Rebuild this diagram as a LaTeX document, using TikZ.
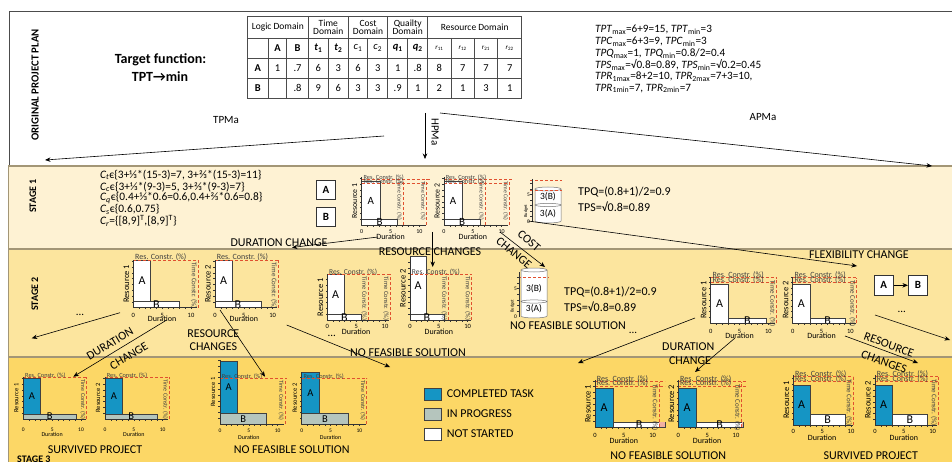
\documentclass[tikz,border=0pt]{standalone}
\usepackage{fontspec}
\setmainfont{Carlito}
\usetikzlibrary{arrows.meta}
\definecolor{sA}{HTML}{FEF2D3}
\definecolor{sB}{HTML}{FCE59E}
\definecolor{sC}{HTML}{FCD766}
\definecolor{bandline}{HTML}{A39676}
\definecolor{consred}{HTML}{E0502F}
\definecolor{done}{HTML}{1595C4}
\definecolor{prog}{HTML}{B5C5BD}
\newcommand\fs[1]{\fontsize{#1}{#1}\selectfont}
% chart axes: #1 ylabel, #2 height, #3 x length, #4 tick label offset, #5 duration offset
\newcommand\chax[5]{%
  \draw[axl] (0,0) -- (0,-#2);
  \draw[axl] (0,0) -- (#3,0);
  \foreach \i in {1,...,10} {\draw[axl] ({\i*5.77},0) -- ++(0,1.6);}
  \pgfmathtruncatemacro\nt{#2/5.8}
  \foreach \j in {1,...,\nt} {\draw[axl] (0,{-\j*5.8}) -- ++(-1.8,0);}
  \node[tick] at (0,#4) {0};
  \node[tick] at (28.85,#4) {5};
  \node[tick] at (57.7,#4) {10};
  \node[dur] at (28.85,#5) {Duration};
  \node[ylab] at (-7,{-#2/2}) {#1};
}
\newcommand\tbar[6]{\draw[task,fill=#1] (#2,#3) rectangle (#4,#5);
  \node[barlab] at ({(#2+#4)/2},{(#3+#5)/2}) {#6};}
\newcommand\resl[2]{\draw[cons] (0,#1) -- (#2,#1);
  \node[conl,anchor=south west] at (1.5,#1+1.2) {Res. Constr. (\%)};}
\newcommand\timl[2]{\draw[cons] (#1,0) -- (#1,-#2);
  \node[timll,rotate=-90,anchor=north west] at (#1-0.8,-#2+2) {Time Constr. (\%)};}
% budget cylinder: #1 left x, #2 top y, #3 bottom y, #4 divider y
\newcommand\budget[4]{%
  \draw[cylb] (#1,#2) -- (#1,#3) arc[start angle=180,end angle=0,x radius=13,y radius=2] -- (#1+26,#2);
  \draw[cylb] (#1+13,#2) ellipse[x radius=13,y radius=2];
  \draw[cylb] (#1+13,#4) ellipse[x radius=13,y radius=1.6];
}
\begin{document}
\begin{tikzpicture}[x=1pt,y=-1pt,
  arr/.style={-{Stealth[length=5.5pt,width=4.5pt]},line width=0.6pt},
  lab/.style={font=\fs{11},inner sep=0},
  big/.style={font=\fs{12},inner sep=0},
  txt/.style={font=\fs{11.4},inner sep=0,anchor=west},
  txq/.style={font=\fs{12},inner sep=0,anchor=west},
  task/.style={draw=black!75,line width=0.5pt},
  axl/.style={draw=black!80,line width=0.45pt},
  cons/.style={draw=consred,dash pattern=on 3pt off 2pt,line width=0.6pt},
  conl/.style={font=\fs{8},inner sep=0.2pt,text=black!75},
  timll/.style={font=\fs{7},inner sep=0.2pt,text=black!75},
  tick/.style={font=\fs{6.5},inner sep=0},
  dur/.style={font=\fs{8},inner sep=0},
  ylab/.style={font=\fs{8.5},inner sep=0,rotate=90},
  barlab/.style={font=\fs{12},inner sep=0},
  box/.style={draw=black!80,fill=white,line width=0.8pt,minimum width=19.5pt,minimum height=19pt,inner sep=0,font=\bfseries\fs{11}},
  cylb/.style={draw=black!55,fill=white,line width=0.5pt},
  stg/.style={font=\bfseries\fs{10},inner sep=0},
  tab/.style={font=\fs{10.5},inner sep=0},
  tabh/.style={font=\fs{9.5},inner sep=0,align=center},
  ch1/.style={conl/.style={font=\fs{6.3},inner sep=0.2pt,text=black!75},timll/.style={font=\fs{5.8},inner sep=0.2pt,text=black!75},tick/.style={font=\fs{6},inner sep=0},dur/.style={font=\fs{8},inner sep=0},ylab/.style={font=\fs{7.8},inner sep=0,rotate=90},barlab/.style={font=\fs{11},inner sep=0}},
  ch2c/.style={conl/.style={font=\fs{7.5},inner sep=0.2pt,text=black!75},timll/.style={font=\fs{6.5},inner sep=0.2pt,text=black!75}},
  small3/.style={dur/.style={font=\fs{6},inner sep=0},ylab/.style={font=\fs{6.5},inner sep=0,rotate=90},conl/.style={font=\fs{6.3},inner sep=0.2pt,text=black!75},timll/.style={font=\fs{6},inner sep=0.2pt,text=black!75},tick/.style={font=\fs{5.5},inner sep=0},barlab/.style={font=\fs{10.5},inner sep=0}}
]
\useasboundingbox (0,0) rectangle (952,462);
% ---------- frame and bands
\fill[white] (0,0) rectangle (952,462);
\draw[black!70,line width=0.6pt] (952,11) -- (9,11) -- (9,166);
\draw[bandline,line width=1.5pt,fill=sA] (8.5,166) rectangle (960,249);
\draw[bandline,line width=1.5pt,fill=sB] (8.5,249) rectangle (960,357);
\draw[bandline,line width=1.5pt,fill=sC] (8.5,357) rectangle (960,470);
% ---------- stage labels
\node[stg,font=\bfseries\fs{10.8},rotate=90] (lorig) at (35,85) {ORIGINAL PROJECT PLAN};
\node[stg,rotate=90] (ls1) at (33,196) {STAGE 1};
\node[stg,rotate=90] (ls2) at (35,294) {STAGE 2};
\node[stg,anchor=north west] (ls3) at (17,456) {STAGE 3};
% ---------- target function
\node[font=\bfseries\fs{14},inner sep=0] (tf1) at (160.5,60) {Target function:};
\node[font=\bfseries\fs{14},inner sep=0] (tf2) at (160,77) {TPT→min};
% ---------- table
\foreach \y in {16,38,58,78,98} {\draw[black!70,line width=0.5pt] (247.3,\y) -- (521.7,\y);}
\foreach \x in {247.3,308.3,348.3,387.7,427.7,521.7} {\draw[black!70,line width=0.5pt] (\x,16) -- (\x,98);}
\foreach \x in {268.3,286.7,328.3,367.7,407.7,451,474.3,497.7} {\draw[black!70,line width=0.5pt] (\x,38) -- (\x,98);}
\node[tabh] (h1) at (277.8,27) {Logic Domain};
\node[tabh] (h2) at (328.3,27) {Time\\[-1.5pt]Domain};
\node[tabh] (h3) at (368,27) {Cost\\[-1.5pt]Domain};
\node[tabh] (h4) at (407.7,27) {Quailty\\[-1.5pt]Domain};
\node[tabh] (h5) at (474.7,27) {Resource Domain};
\foreach \x/\t in {277.5/\textbf{A},297.5/\textbf{B},318.3/\textbf{\textit{t}\textsubscript{1}},338.3/\textbf{\textit{t}\textsubscript{2}},358/\textit{c}\textsubscript{1},377.7/\textit{c}\textsubscript{2},397.7/\textbf{\textit{q}\textsubscript{1}},417.7/\textbf{\textit{q}\textsubscript{2}},439.3/{\fs{7}\textit{r}\textsubscript{11}},462.7/{\fs{7}\textit{r}\textsubscript{12}},486/{\fs{7}\textit{r}\textsubscript{21}},509.7/{\fs{7}\textit{r}\textsubscript{22}}}
  {\node[tab] at (\x,48) {\t};}
\foreach \x/\t in {257.8/\textbf{A},277.5/1,297.5/.7,318.3/6,338.3/3,358/6,377.7/3,397.7/1,417.7/.8,439.3/8,462.7/7,486/7,509.7/7}
  {\node[tab] at (\x,68) {\t};}
\foreach \x/\t in {257.8/\textbf{B},297.5/.8,318.3/9,338.3/6,358/3,377.7/3,397.7/.9,417.7/1,439.3/2,462.7/1,486/3,509.7/1}
  {\node[tab] at (\x,88) {\t};}
% ---------- right info text
\begin{scope}[every node/.style={font=\fs{11.2},inner sep=0,anchor=west}]
\node (i1) at (595,30) {\textit{TPT}\textsubscript{max}=6+9=15, \textit{TPT}\textsubscript{min}=3};
\node (i2) at (595,41.7) {\textit{TPC}\textsubscript{max}=6+3=9, \textit{TPC}\textsubscript{min}=3};
\node (i3) at (595,53.4) {\textit{TPQ}\textsubscript{max}=1, \textit{TPQ}\textsubscript{min}=0.8/2=0.4};
\node (i4) at (595,65.1) {\textit{TPS}\textsubscript{max}=√0.8=0.89, \textit{TPS}\textsubscript{min}=√0.2=0.45};
\node (i5) at (595,76.8) {\textit{TPR}\textsubscript{1max}=8+2=10, \textit{TPR}\textsubscript{2max}=7+3=10,};
\node (i6) at (595,88.5) {\textit{TPR}\textsubscript{1min}=7, \textit{TPR}\textsubscript{2min}=7};
\end{scope}
% ---------- method arrows
\coordinate (tpS) at (384,136); \coordinate (tpE) at (45,160);
\coordinate (hpS) at (425,113); \coordinate (hpE) at (425,159);
\coordinate (apS) at (440,113); \coordinate (apE) at (932,166);
\draw[arr] (tpS) -- (tpE);
\draw[arr] (hpS) -- (hpE);
\draw[arr] (apS) -- (apE);
\node[lab] (ltp) at (226,120) {TPMa};
\node[lab,rotate=-90] (lhp) at (435,132) {HPMa};
\node[lab] (lap) at (763,117) {APMa};
% ---------- stage 1 text
\node[txt] (c1) at (100,175) {\textit{C\textsubscript{t}}є\{3+⅓*(15-3)=7, 3+⅔*(15-3)=11\}};
\node[txt] (c2) at (100,186.7) {\textit{C\textsubscript{c}}є\{3+⅓*(9-3)=5, 3+⅔*(9-3)=7\}};
\node[txt] (c3) at (100,198.3) {\textit{C\textsubscript{q}}є\{0.4+⅓*0.6=0.6,0.4+⅔*0.6=0.8\}};
\node[txt] (c4) at (100,209.5) {\textit{C\textsubscript{s}}є\{0.6,0.75\}};
\node[txt] (c5) at (100,221) {\textit{C\textsubscript{r}}=\{[8,9]\textsuperscript{T},[8,9]\textsuperscript{T}\}};
\node[box] (bA1) at (326,190) {A};
\node[box] (bB1) at (326,217) {B};
% stage 1 charts
\begin{scope}[shift={(361.7,225)},ch1]
  \tbar{white}{0}{-5.7}{18.3}{-43.3}{A}
  \tbar{white}{0}{0}{35.7}{-5.7}{B}
  \resl{-45.7}{68} \resl{-41.7}{66}
  \timl{41.3}{46} \timl{65}{46}
  \chax{Resource 1}{48.3}{64}{6.7}{11.7}
\end{scope}
\begin{scope}[shift={(444,225)},ch1]
  \tbar{white}{0}{-5.7}{18.3}{-43.3}{A}
  \tbar{white}{0}{0}{36}{-5.7}{B}
  \resl{-45.7}{68} \resl{-41.7}{66}
  \timl{41}{46} \timl{65.3}{46}
  \chax{Resource 2}{48.3}{64}{6.7}{11.7}
\end{scope}
% budget stage 1
\draw[cons] (530,180.7) -- (562,180.7);
\budget{535}{189}{221}{205}
\draw[cons] (530,190.7) -- (562,190.7);
\node[font=\fs{9.5},inner sep=0] (b1b) at (548,197) {3(B)};
\node[font=\fs{9.5},inner sep=0] (b1a) at (548,213.5) {3(A)};
\draw[axl] (532,179) -- (532,222);
\foreach \j in {1,...,7} {\draw[axl] (532,{222-\j*5.5}) -- ++(-1.6,0);}
\node[font=\fs{5.5},inner sep=0] at (528.5,222) {0};
\node[font=\fs{5.5},inner sep=0] at (528.5,194.5) {5};
\node[font=\fs{4.5},inner sep=0,rotate=90] at (526,211) {Budget};
\node[txq] (q1) at (578,192.3) {TPQ=(0.8+1)/2=0.9};
\node[txq] (s1) at (578,206.7) {TPS=√0.8=0.89};
% stage 1 arrows
\coordinate (d1S) at (378,237); \coordinate (d1E) at (292,247.5);
\draw[arr] (d1S) -- (d1E);
\node[big] (ld1) at (279,242.5) {DURATION CHANGE};
\coordinate (r1S) at (432.7,232); \coordinate (r1E) at (432.7,267);
\draw[arr] (r1S) -- (r1E);
\node[big] (lr1) at (430,251.5) {RESOURCE CHANGES};
\coordinate (cc1S) at (500,232); \coordinate (cc1E) at (545,267);
\draw[arr] (cc1S) -- (cc1E);
\node[big,rotate=-40] (lcc1) at (529,241) {COST};
\node[big,rotate=-40] (lcc2) at (514,253) {CHANGE};
\coordinate (f1S) at (528,221); \coordinate (f1E) at (857,266);
\draw[arr] (f1S) -- (f1E);
\node[big] (lf1) at (859,255) {FLEXIBILITY CHANGE};
% ---------- stage 2 charts
\begin{scope}[shift={(133.3,307.7)}]
  \tbar{white}{0}{-6}{17.4}{-47.7}{A}
  \tbar{white}{0}{0}{46}{-6}{B}
  \resl{-47.7}{66}
  \timl{65}{47.7}
  \chax{Resource 1}{47.7}{64}{7.3}{11.3}
\end{scope}
\begin{scope}[shift={(215,307.7)}]
  \tbar{white}{0}{-6}{17.3}{-47.7}{A}
  \tbar{white}{0}{0}{46}{-6}{B}
  \resl{-47.7}{63.3}
  \timl{63.3}{47.7}
  \chax{Resource 2}{47.7}{62}{7.3}{11.3}
\end{scope}
\begin{scope}[shift={(327.3,320)},ch2c]
  \tbar{white}{0}{-5.7}{16.7}{-45.7}{A}
  \tbar{white}{0}{0}{34.4}{-5.7}{B}
  \resl{-45.7}{62.7}
  \timl{41}{45.7} \timl{62.7}{45.7}
  \chax{Resource 1}{45.7}{62}{6.5}{11.5}
\end{scope}
\begin{scope}[shift={(410,320)},ch2c]
  \tbar{white}{0}{-5.7}{16}{-63.3}{A}
  \tbar{white}{0}{0}{34}{-5.7}{B}
  \resl{-45.7}{61.7}
  \timl{38.3}{45.7} \timl{61.7}{45.7}
  \chax{Resource 2}{63.3}{61}{6.5}{11.5}
\end{scope}
% budget stage 2
\budget{521}{270}{316}{301.5}
\draw[cons] (518,277) -- (549,277);
\node[font=\fs{9.5},inner sep=0] (b2b) at (534,288.5) {3(B)};
\node[font=\fs{9.5},inner sep=0] (b2a) at (534,309) {3(A)};
\draw[axl] (519,272) -- (519,317);
\foreach \j in {1,...,7} {\draw[axl] (519,{317-\j*5.7}) -- ++(-1.6,0);}
\node[font=\fs{5.5},inner sep=0] at (515.5,317) {0};
\node[font=\fs{5.5},inner sep=0] at (515.5,288.5) {5};
\node[font=\fs{4.5},inner sep=0,rotate=90] at (512.5,306) {Budget};
\node[big] (nf2) at (568,326) {NO FEASIBLE SOLUTION};
\node[txq] (q2) at (564,291.7) {TPQ=(0.8+1)/2=0.9};
\node[txq] (s2) at (564,306.7) {TPS=√0.8=0.89};
\begin{scope}[shift={(710.7,323.3)}]
  \tbar{white}{0}{0}{17.6}{-39}{A}
  \tbar{white}{17.6}{0}{56}{-5}{B}
  \resl{-45.6}{66} \resl{-40.6}{66}
  \timl{66}{45.6}
  \chax{Resource 1}{46.6}{64}{8}{12.4}
\end{scope}
\begin{scope}[shift={(792.7,323.3)}]
  \tbar{white}{0}{0}{17.3}{-39}{A}
  \tbar{white}{17.3}{0}{52.3}{-5}{B}
  \resl{-45.6}{64} \resl{-40.6}{64}
  \timl{64}{45.6}
  \chax{Resource 2}{46.6}{63}{8}{12.4}
\end{scope}
\node[box,minimum width=19.3pt,minimum height=19.3pt] (bA2) at (883.7,285.3) {A};
\node[box,minimum width=19.3pt,minimum height=19.3pt] (bB2) at (918,285.3) {B};
\draw[arr] (bA2) -- (bB2);
% stage 2 arrows
\coordinate (e1S) at (120,312.7); \coordinate (e1E) at (31.7,338.3);
\draw[arr] (e1S) -- (e1E);
\node[lab] (dot1) at (80,315) {...};
\coordinate (d2S) at (166.7,320); \coordinate (d2E) at (73.3,376.7);
\draw[arr] (d2S) -- (d2E);
\node[big,rotate=31] (ld2a) at (110,344) {DURATION};
\node[big,rotate=31] (ld2b) at (129,356) {CHANGE};
\coordinate (r2S) at (220,310); \coordinate (r2E) at (265,376.7);
\draw[arr] (r2S) -- (r2E);
\node[big] (lr2a) at (213.3,333.5) {RESOURCE};
\node[big] (lr2b) at (213.3,347) {CHANGES};
\coordinate (n2S) at (286.7,325); \coordinate (n2E) at (390,367);
\draw[arr] (n2S) -- (n2E);
\node[lab] (dot2) at (331.7,336) {...};
\node[big] (ln2) at (408,353) {NO FEASIBLE SOLUTION};
\coordinate (e2S) at (695,318); \coordinate (e2E) at (578,363);
\draw[arr] (e2S) -- (e2E);
\node[lab] (dot3) at (633,333) {...};
\coordinate (d3S) at (735,338); \coordinate (d3E) at (695,372);
\draw[arr] (d3S) -- (d3E);
\node[big] (ld3a) at (688.3,347) {DURATION};
\node[big] (ld3b) at (690,361) {CHANGE};
\coordinate (r3S) at (845,336); \coordinate (r3E) at (918,363);
\draw[arr] (r3S) -- (r3E);
\node[big,rotate=-20] (lr3a) at (889,345) {RESOURCE};
\node[big,rotate=-20] (lr3b) at (884,362) {CHANGES};
\coordinate (e3S) at (875,315); \coordinate (e3E) at (950,340);
\draw[arr] (e3S) -- (e3E);
\node[lab] (dot4) at (901.7,312) {...};
% ---------- stage 3 charts
\begin{scope}[shift={(23.3,419)},small3]
  \tbar{done}{0}{-5}{17.4}{-40.7}{A}
  \tbar{prog}{0}{0}{52.7}{-5}{B}
  \resl{-41.7}{63.4}
  \timl{63.4}{41.7}
  \chax{Resource 1}{41.7}{63}{10.5}{15.5}
\end{scope}
\begin{scope}[shift={(105,419)},small3]
  \tbar{done}{0}{-5}{17.7}{-40.7}{A}
  \tbar{prog}{0}{0}{52.3}{-5}{B}
  \resl{-41.7}{64.3}
  \timl{64.3}{41.7}
  \chax{Resource 2}{41.7}{63}{10.5}{15.5}
\end{scope}
\begin{scope}[shift={(220,424)},small3]
  \tbar{done}{0}{-10.7}{17.3}{-62.3}{A}
  \tbar{prog}{0}{0}{46.7}{-10.7}{B}
  \resl{-45.7}{66.7}
  \timl{65}{45.7}
  \chax{Resource 1}{64}{64}{7}{13}
\end{scope}
\begin{scope}[shift={(301.7,424)},small3]
  \tbar{done}{0}{-10.7}{17.6}{-51.3}{A}
  \tbar{prog}{0}{0}{46.6}{-10.7}{B}
  \resl{-45.7}{65}
  \timl{65}{45.7}
  \chax{Resource 2}{52}{64}{7}{13}
\end{scope}
\node[big] (sv1) at (95,449.3) {SURVIVED PROJECT};
\node[big] (nf3) at (291.7,449.3) {NO FEASIBLE SOLUTION};
% legend
\draw[task,line width=0.8pt,fill=done] (424.3,388.3) rectangle (441.7,400);
\draw[task,line width=0.8pt,fill=prog] (424.3,408.3) rectangle (441.7,420);
\draw[task,line width=0.8pt,fill=white] (424.3,428.3) rectangle (441.7,440);
\node[big,anchor=west] (lg1) at (446.7,394) {COMPLETED TASK};
\node[big,anchor=west] (lg2) at (446.7,414) {IN PROGRESS};
\node[big,anchor=west] (lg3) at (446.7,434) {NOT STARTED};
\begin{scope}[shift={(595,427.3)}]
  \tbar{done}{0}{0}{18.3}{-39}{A}
  \tbar{white}{18.3}{0}{70}{-5}{B}
  \fill[consred!45] (64.3,0) rectangle (70,-5);
  \resl{-45.6}{70} \resl{-41.3}{70}
  \timl{64.3}{45.6}
  \chax{Resource 1}{47.3}{64}{8}{13}
\end{scope}
\begin{scope}[shift={(678.3,427.3)}]
  \tbar{done}{0}{0}{17.7}{-39}{A}
  \tbar{white}{17.7}{0}{65}{-5}{B}
  \fill[consred!45] (63.4,0) rectangle (65,-5);
  \resl{-45.6}{68.4} \resl{-41.3}{68.4}
  \timl{63.4}{45.6}
  \chax{Resource 2}{47.3}{64}{8}{13}
\end{scope}
\begin{scope}[shift={(793.3,425)}]
  \tbar{done}{0}{0}{16.7}{-40}{A}
  \tbar{white}{16.7}{0}{51.7}{-11}{B}
  \resl{-48.3}{60} \resl{-43.3}{60}
  \timl{60}{48.3}
  \chax{Resource 1}{50}{60}{6.5}{12.3}
\end{scope}
\begin{scope}[shift={(875,425)}]
  \tbar{done}{0}{0}{17.3}{-40}{A}
  \tbar{white}{17.3}{0}{52.3}{-11}{B}
  \resl{-48.3}{63.3} \resl{-43.3}{63.3}
  \timl{63.3}{48.3}
  \chax{Resource 2}{50}{62}{6.5}{12.3}
\end{scope}
\node[big] (nf4) at (668.3,456) {NO FEASIBLE SOLUTION};
\node[big] (sv2) at (870.8,456) {SURVIVED PROJECT};
\end{tikzpicture}
\end{document}
